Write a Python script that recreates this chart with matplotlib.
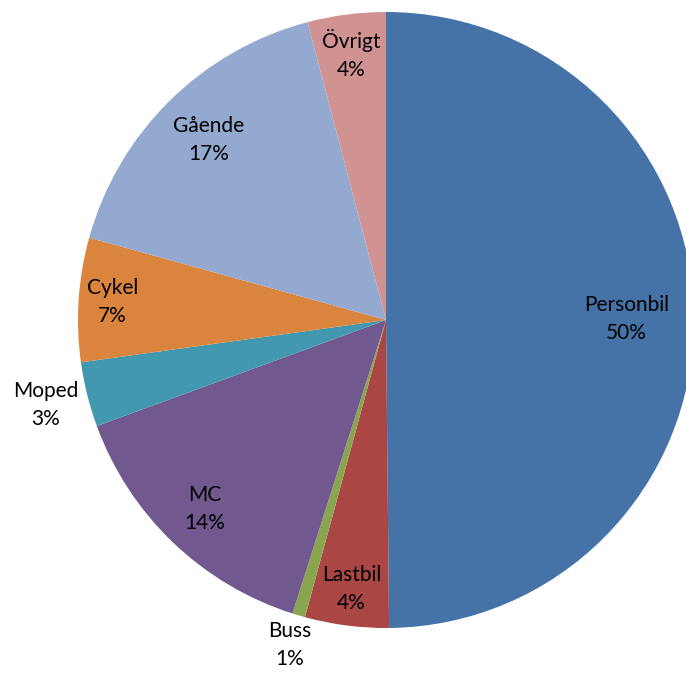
import numpy as np
import matplotlib
matplotlib.use('Agg')
import matplotlib.pyplot as plt

# slices, clockwise from 12 o'clock
categories = ['Personbil', 'Lastbil', 'Buss', 'MC', 'Moped', 'Cykel', 'Gående', 'Övrigt']
values = [49.85, 4.4, 0.67, 14.5, 3.4, 6.5, 16.6, 4.1]
pct_labels = ['50%', '4%', '1%', '14%', '3%', '7%', '17%', '4%']
colors = ['#4572A7', '#AA4643', '#89A54E', '#71588F', '#4198AF', '#DB843D', '#93A9CF', '#D19392']
# radial position of each label (fraction of radius)
label_r = [0.78, 0.88, 1.10, 0.85, 1.14, 0.89, 0.82, 0.87]

fig = plt.figure(figsize=(6.86, 6.75), dpi=100)
ax = fig.add_axes([78/686, 47/675, 616/686, 616/675])
wedges, _ = ax.pie(values, colors=colors, startangle=90, counterclock=False,
                   radius=1, wedgeprops=dict(linewidth=0))
ax.set_xlim(-1, 1)
ax.set_ylim(-1, 1)
ax.set_aspect('equal')
ax.axis('off')
for w in wedges:
    w.set_clip_on(False)

for w, cat, p, r in zip(wedges, categories, pct_labels, label_r):
    ang = np.deg2rad((w.theta1 + w.theta2) / 2)
    x, y = r * np.cos(ang), r * np.sin(ang)
    ax.text(x, y, cat + '\n' + p, ha='center', va='center', fontsize=15,
            family=['Lato', 'DejaVu Sans'], color='black', linespacing=1.5)

fig.savefig('out.png', dpi=100)
